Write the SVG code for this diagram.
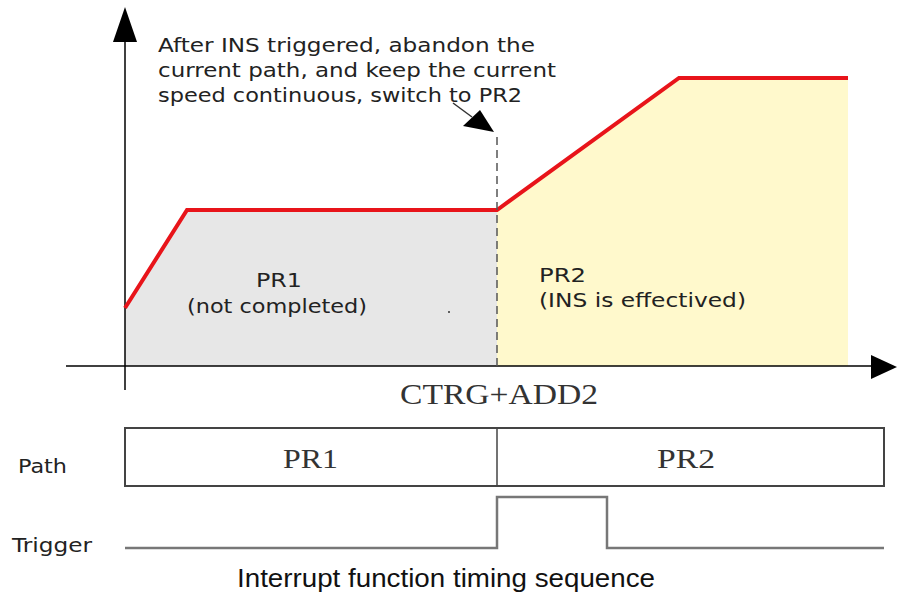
<svg xmlns="http://www.w3.org/2000/svg" width="897" height="598" viewBox="0 0 897 598">
<style>
.ann{font-family:"DejaVu Sans",Verdana,sans-serif;font-size:20px;fill:#222}
.ser{font-family:"Liberation Serif","Times New Roman",serif;fill:#333}
.axis{stroke:#000;stroke-width:1.5;fill:none}
.sig{stroke:#777;stroke-width:2.5;fill:none}
</style>
<rect width="897" height="598" fill="#fff"/>
<g id="areas">
<polygon points="125,308 187,210 497,210 497,366 125,366" fill="#e7e7e7"/>
<polygon points="497,210 679,78 848,78 848,366 497,366" fill="#fff9cc"/>
</g>
<g id="axes">
<line x1="125" y1="38" x2="125" y2="390" class="axis"/>
<polygon points="125,7 113,42 137,42" fill="#000"/>
<line x1="66" y1="366" x2="874" y2="366" class="axis"/>
<polygon points="897,367 871,355 871,379" fill="#000"/>
</g>
<g id="speed-curve">
<polyline points="125,308 187,210 497,210 679,78 848,78" fill="none" stroke="#e8141a" stroke-width="4"/>
</g>
<g id="connectors">
<line x1="497" y1="137" x2="497" y2="366" stroke="#555" stroke-width="1.5" stroke-dasharray="8,5"/>
<line x1="453" y1="103" x2="472" y2="117" stroke="#333" stroke-width="1.5"/>
<polygon points="494,132 463,126 480,110" fill="#000"/>
</g>
<g id="annotation">
<text class="ann" x="158" y="52" textLength="377" lengthAdjust="spacingAndGlyphs">After INS triggered, abandon the</text>
<text class="ann" x="158" y="77" textLength="398" lengthAdjust="spacingAndGlyphs">current path, and keep the current</text>
<text class="ann" x="158" y="102" textLength="364" lengthAdjust="spacingAndGlyphs">speed continuous, switch to PR2</text>
</g>
<g id="pr1-label">
<text class="ann" x="256" y="287" textLength="46" lengthAdjust="spacingAndGlyphs">PR1</text>
<text class="ann" x="187" y="313" textLength="180" lengthAdjust="spacingAndGlyphs">(not completed)</text>
<circle cx="449" cy="312" r="1" fill="#333"/>
</g>
<g id="pr2-label">
<text class="ann" x="539" y="282" textLength="47" lengthAdjust="spacingAndGlyphs">PR2</text>
<text class="ann" x="539" y="307" textLength="207" lengthAdjust="spacingAndGlyphs">(INS is effectived)</text>
</g>
<text class="ser" x="400" y="404" font-size="30" textLength="198" lengthAdjust="spacingAndGlyphs">CTRG+ADD2</text>
<g id="path-row">
<text class="ann" x="18" y="473" font-size="22" textLength="49" lengthAdjust="spacingAndGlyphs">Path</text>
<rect x="125" y="428" width="759" height="58" fill="#fff" stroke="#444" stroke-width="2"/>
<line x1="497" y1="428" x2="497" y2="486" stroke="#444" stroke-width="1.5"/>
<text class="ser" x="283" y="468" font-size="27" textLength="55" lengthAdjust="spacingAndGlyphs">PR1</text>
<text class="ser" x="657" y="468" font-size="27" textLength="58" lengthAdjust="spacingAndGlyphs">PR2</text>
</g>
<g id="trigger-row">
<text class="ann" x="12" y="552" font-size="22" textLength="80" lengthAdjust="spacingAndGlyphs">Trigger</text>
<polyline class="sig" points="125,548 497,548 497,497 607,497 607,548 884,548"/>
</g>
<text x="237" y="587" font-family="Liberation Sans,Arial,sans-serif" font-size="26" fill="#111" textLength="418" lengthAdjust="spacingAndGlyphs">Interrupt function timing sequence</text>
</svg>
